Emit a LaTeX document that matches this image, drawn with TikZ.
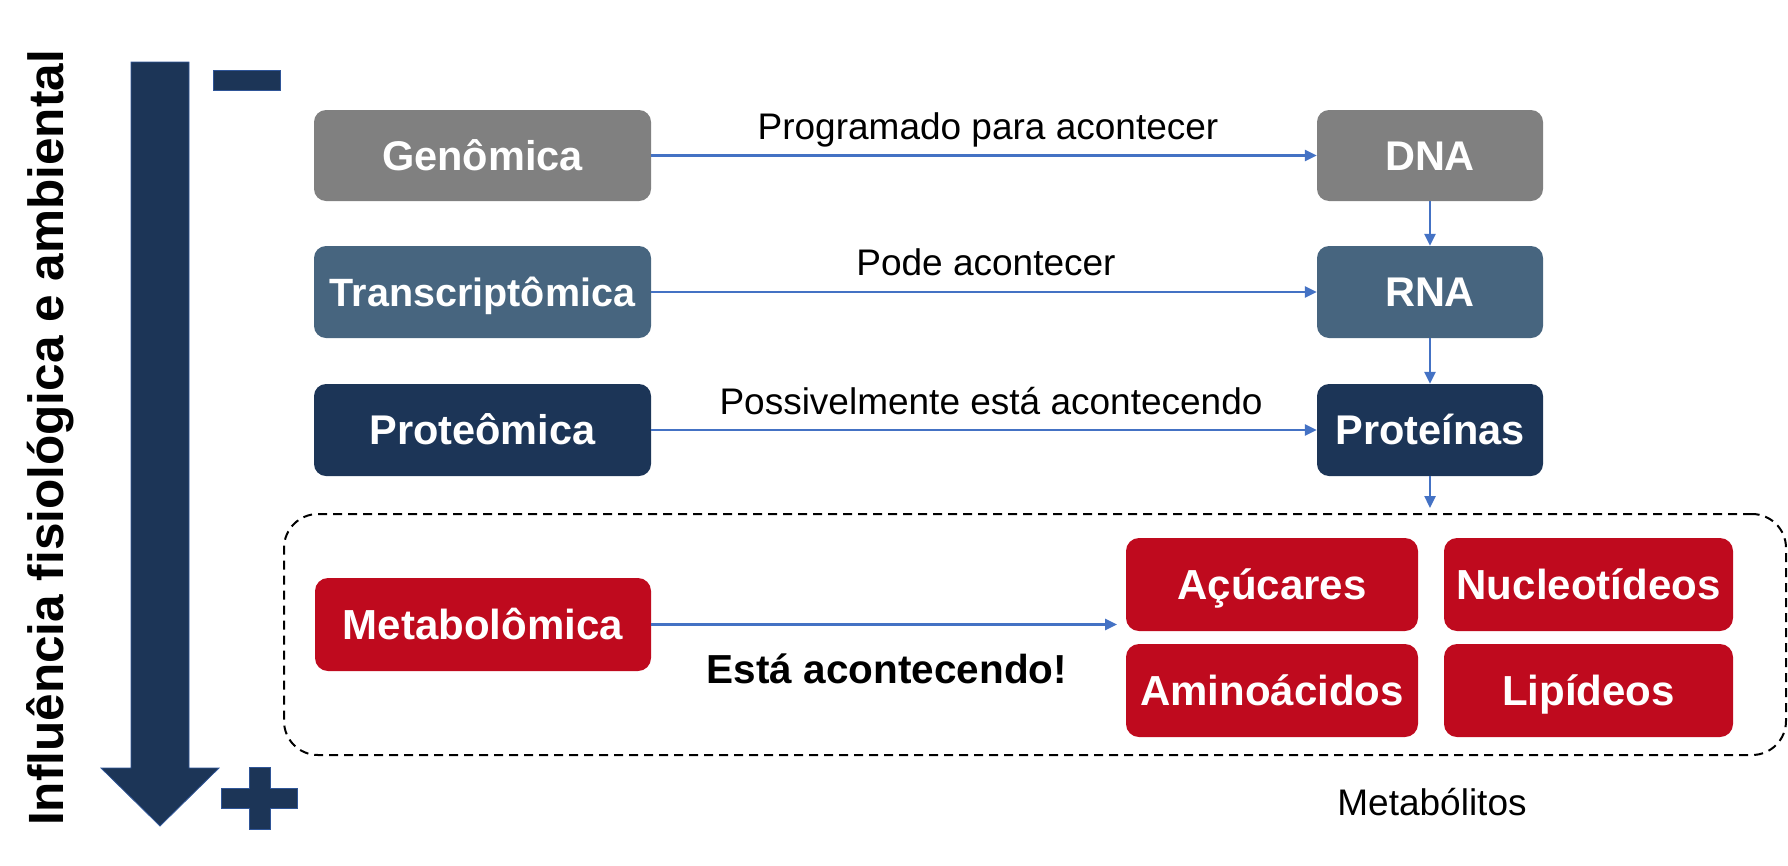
\documentclass[tikz,border=0pt]{standalone}
\usepackage{fontspec}
\setmainfont{Liberation Sans}
\usetikzlibrary{arrows.meta}
\definecolor{cgray}{HTML}{808080}
\definecolor{csteel}{HTML}{47657F}
\definecolor{cnavy}{HTML}{1C3557}
\definecolor{cred}{HTML}{BF0A1E}
\definecolor{cblue}{HTML}{4472C4}
\definecolor{cedge}{HTML}{2F5597}
\tikzset{
  omicbox/.style={rounded corners=12pt, inner sep=0pt, text=white,
    font=\fontsize{41.5}{48}\selectfont\bfseries, text height=29.7pt, text depth=0pt,
    minimum height=92pt},
  metbox/.style={omicbox, fill=cred, rounded corners=13pt, minimum height=93pt,
    font=\fontsize{42}{48}\selectfont\bfseries, text height=30pt},
  flow/.style={draw=cblue, line width=2.5pt, -{Triangle[length=12pt,width=11pt]}},
  lbl/.style={font=\fontsize{37}{44}\selectfont, anchor=base, inner sep=0pt},
  signshape/.style={fill=cnavy, draw=cedge, line width=0.8pt}
}
\begin{document}
\begin{tikzpicture}[x=1pt,y=-1pt]
\useasboundingbox (0,0) rectangle (1788,865);
% side label
\node[rotate=90, anchor=base west, inner sep=0pt,
  font=\fontsize{49.5}{56}\selectfont\bfseries] (side) at (63,826) {Influência fisiológica e ambiental};
% big arrow
\draw[signshape] (131,62) -- (189,62) -- (189,768) -- (219,768) -- (160,826) -- (101,768) -- (131,768) -- cycle;
% minus and plus
\draw[signshape] (213,70) rectangle (280,90);
\draw[signshape] (221,788) -- (249,788) -- (249,767) -- (270,767) -- (270,788) -- (297,788) -- (297,808) -- (270,808) -- (270,829) -- (249,829) -- (249,808) -- (221,808) -- cycle;
% dashed container
\node[draw=black, dash pattern=on 9pt off 6pt, line width=2pt, rounded corners=34pt,
  minimum width=1502pt, minimum height=241pt, inner sep=0pt] (metcont) at (1035,634.5) {};
% left boxes
\node[omicbox, fill=cgray, minimum width=337pt, minimum height=91pt] (gen) at (482.5,155.5) {Genômica};
\node[omicbox, fill=csteel, minimum width=337pt, font=\fontsize{39.5}{48}\selectfont\bfseries, text height=28.3pt] (trans) at (482.5,292) {Transcriptômica};
\node[omicbox, fill=cnavy, minimum width=337pt] (prot) at (482.5,430) {Proteômica};
\node[metbox, minimum width=336pt] (meta) at (483,624.5) {Metabolômica};
% right boxes
\node[omicbox, fill=cgray, minimum width=226pt, minimum height=91pt] (dna) at (1430,155.5) {DNA};
\node[omicbox, fill=csteel, minimum width=226pt] (rna) at (1430,292) {RNA};
\node[omicbox, fill=cnavy, minimum width=226pt] (prots) at (1430,430) {Proteínas};
% metabolites
\node[metbox, minimum width=292pt] (acu) at (1272,584.5) {Açúcares};
\node[metbox, minimum width=289pt] (nuc) at (1588.5,584.5) {Nucleotídeos};
\node[metbox, minimum width=292pt] (ami) at (1272,690.5) {Aminoácidos};
\node[metbox, minimum width=289pt] (lip) at (1588.5,690.5) {Lipídeos};
% connectors
\draw[flow] (gen.east) -- (dna.west);
\draw[flow] (trans.east) -- (rna.west);
\draw[flow] (prot.east) -- (prots.west);
\draw[flow] (dna.south) -- (rna.north);
\draw[flow] (rna.south) -- (prots.north);
\coordinate (protend) at (1430,508);
\draw[flow] (prots.south) -- (protend);
\coordinate (metend) at (1117,624.5);
\draw[flow] (meta.east) -- (metend);
% labels
\node[lbl] (l1) at (988,139) {Programado para acontecer};
\node[lbl] (l2) at (986,275.5) {Pode acontecer};
\node[lbl] (l3) at (991,414) {Possivelmente está acontecendo};
\node[lbl, font=\fontsize{40.5}{48}\selectfont\bfseries] (l4) at (887,683) {Está acontecendo!};
\node[lbl] (l5) at (1432,815) {Metabólitos};
\end{tikzpicture}
\end{document}
